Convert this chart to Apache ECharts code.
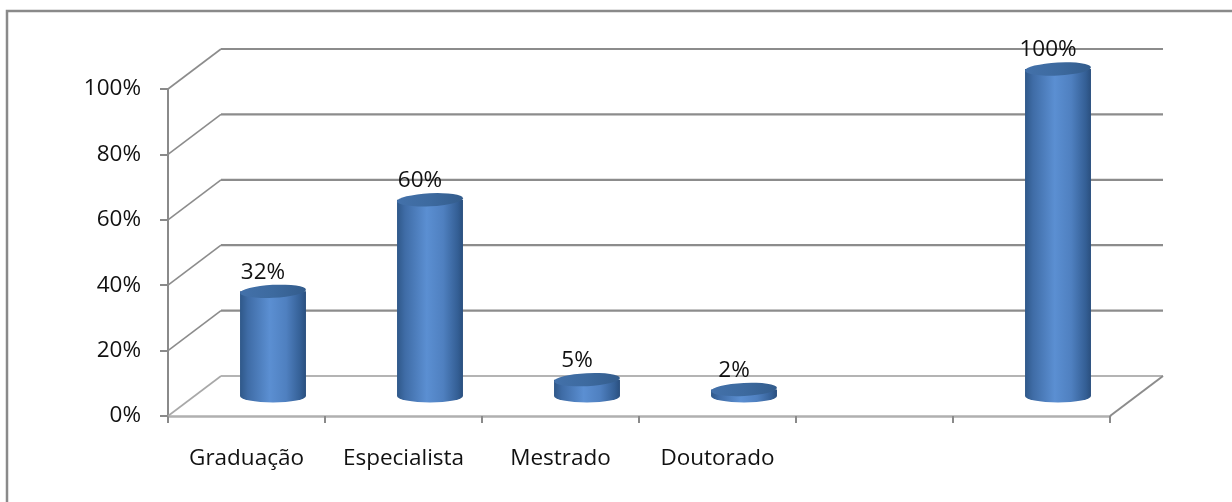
<!DOCTYPE html>
<html>
<head>
<meta charset="utf-8">
<script src="https://cdn.jsdelivr.net/npm/echarts@6/dist/echarts.min.js"></script>
<style>
  html, body { margin: 0; padding: 0; background: #fff; }
  #chart { width: 1232px; height: 502px; }
</style>
</head>
<body>
<div id="chart"></div>
<script>
// ---- data ----
const categories = ['Graduação', 'Especialista', 'Mestrado', 'Doutorado', '', ''];
const values = [32, 60, 5, 2, null, 100];
const yTicks = [0, 20, 40, 60, 80, 100];

// ---- 3D look (depth offset of back wall, in px) ----
const DX = 53, DY = -40;
const FONT = '"Open Sans", Lato, sans-serif';
const FS = 22.5;

const barData = [];
values.forEach((v, i) => { if (v !== null) barData.push([i, v]); });

const chart = echarts.init(document.getElementById('chart'));

const option = {
  animation: false,
  backgroundColor: '#ffffff',
  graphic: [{
    type: 'rect',
    shape: { x: 7, y: 11, width: 1400, height: 700 },
    style: { fill: 'none', stroke: '#8a8a8a', lineWidth: 2.5 },
    silent: true
  }],
  grid: { left: 168, right: 122, top: 89, bottom: 86 },
  xAxis: {
    type: 'category',
    data: categories,
    boundaryGap: true,
    axisLine: { lineStyle: { color: '#b0b0b0', width: 2.5 } },
    axisTick: { show: true, interval: 0, length: 7, lineStyle: { color: '#8a8a8a', width: 2 } },
    axisLabel: { interval: 0, margin: 31, fontFamily: FONT, fontSize: FS, color: '#111' },
    splitLine: { show: false }
  },
  yAxis: {
    type: 'value',
    min: 0, max: 100, interval: 20,
    axisLine: { show: true, lineStyle: { color: '#8a8a8a', width: 2 } },
    axisTick: { show: true, length: 8, lineStyle: { color: '#8a8a8a', width: 2 } },
    axisLabel: { formatter: '{value}%', margin: 27, fontFamily: FONT, fontSize: FS, color: '#111' },
    splitLine: { show: false }
  },
  series: [
    {
      // back wall gridlines and depth diagonals
      type: 'custom',
      z: 1,
      data: yTicks.map(v => [0, v]),
      renderItem: function (params, api) {
        const v = api.value(1);
        const bw = api.size([1, 0])[0];
        const p0 = api.coord([0, v]);
        const pN = api.coord([categories.length - 1, v]);
        const x0 = p0[0] - bw / 2, xN = pN[0] + bw / 2, y = p0[1];
        const grey = '#8c8c8c';
        const children = [
          { type: 'line', shape: { x1: x0, y1: y, x2: x0 + DX, y2: y + DY },
            style: { stroke: v === 0 ? '#a8a8a8' : grey, lineWidth: 1.6 } },
          { type: 'line', shape: { x1: x0 + DX, y1: y + DY, x2: xN + DX, y2: y + DY },
            style: { stroke: v === 0 ? '#b4b4b4' : grey, lineWidth: 2.2 } }
        ];
        if (v === 0) {
          children.push({ type: 'line', shape: { x1: xN, y1: y, x2: xN + DX, y2: y + DY },
            style: { stroke: grey, lineWidth: 2 } });
        }
        return { type: 'group', children: children };
      }
    },
    {
      // cylinders
      type: 'custom',
      z: 3,
      data: barData,
      renderItem: function (params, api) {
        const i = api.value(0), v = api.value(1);
        const bw = api.size([1, 0])[0];
        const base = api.coord([i, 0]);
        const top = api.coord([i, v]);
        const cx = base[0] + DX / 2;
        const by = base[1] + DY / 2;
        const ty = top[1] + DY / 2;
        const rx = bw * 0.21, ry = 6.5;
        const L = cx - rx, R = cx + rx;
        const bodyGrad = new echarts.graphic.LinearGradient(0, 0, 1, 0, [
          { offset: 0, color: '#2f5889' },
          { offset: 0.12, color: '#3f6ca6' },
          { offset: 0.45, color: '#5b8fd2' },
          { offset: 0.7, color: '#4f80c0' },
          { offset: 0.92, color: '#345f95' },
          { offset: 1, color: '#2a4f7e' }
        ]);
        const topGrad = new echarts.graphic.LinearGradient(0, 0, 1, 0, [
          { offset: 0, color: '#4371aa' },
          { offset: 0.5, color: '#3d6a9f' },
          { offset: 1, color: '#335c8c' }
        ]);
        const bodyPath = 'M' + L + ',' + ty + ' L' + L + ',' + by +
          ' A' + rx + ',' + ry + ' 0 0 0 ' + R + ',' + by +
          ' L' + R + ',' + ty + ' Z';
        const topPath = 'M' + L + ',' + ty +
          ' A' + rx + ',' + ry + ' 0 1 0 ' + R + ',' + ty +
          ' A' + rx + ',' + ry + ' 0 1 0 ' + L + ',' + ty + ' Z';
        return {
          type: 'group',
          children: [
            { type: 'path', shape: { pathData: bodyPath }, style: { fill: bodyGrad } },
            { type: 'path', shape: { pathData: topPath }, style: { fill: topGrad },
              originX: cx, originY: ty, rotation: 0.05 },
            { type: 'text',
              style: { text: v + '%', x: cx - 10, y: ty - 19, align: 'center', verticalAlign: 'middle',
                       font: FS + 'px ' + FONT, fill: '#111' } }
          ]
        };
      }
    }
  ]
};

chart.setOption(option);
</script>
</body>
</html>
